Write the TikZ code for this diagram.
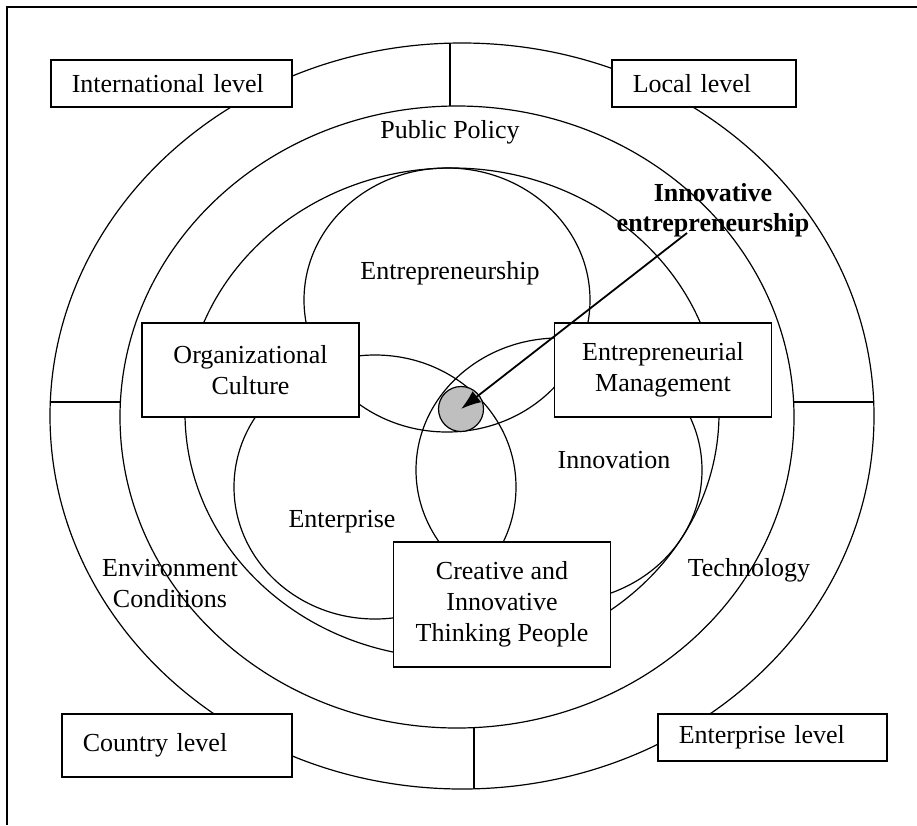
\documentclass[tikz,border=0pt]{standalone}
\usepackage{fontspec}
\setmainfont{Liberation Serif}
\usetikzlibrary{arrows.meta}

\begin{document}
\begin{tikzpicture}[x=1pt,y=-1pt,
    every node/.style={font=\fontsize{26}{31}\selectfont},
    ring/.style={line width=1.2pt},
    levelbox/.style={draw,fill=white,line width=1.6pt,anchor=north west,
        minimum height=47pt,inner xsep=21pt,align=left},
    topicbox/.style={draw,fill=white,line width=1.6pt,minimum width=217pt,
        align=center}]
    \useasboundingbox (0,0) rectangle (917,825);
    \draw[line width=2pt] (7,825) -- (7,7) -- (917,7);

    % rings
    \draw[ring] (462,416) ellipse [x radius=412,y radius=373];
    \draw[ring] (457,417) ellipse [x radius=337,y radius=311];
    \draw[ring] (452,413) ellipse [x radius=267,y radius=245];
    \draw[ring] (450,43) -- (450,106);
    \draw[ring] (474,728) -- (474,789);
    \draw[ring] (51,402) -- (120,402);
    \draw[ring] (794,402) -- (874,402);

    % entrepreneurship, enterprise, innovation
    \draw[ring] (447,300) ellipse [x radius=143,y radius=132];
    \draw[ring] (375,487) ellipse [x radius=141,y radius=132];
    \draw[ring] (559,470) ellipse [x radius=143,y radius=132];

    \node[levelbox,text width=199pt] (intl) at (50,59) {International level};
    \node[levelbox,text width=142pt] (local) at (611,59) {Local level};
    \node[levelbox,text width=188pt,minimum height=63pt] (country) at (61,713) {Country level};
    \node[levelbox,text width=187pt] (entlevel) at (657,713) {Enterprise level};

    \node[topicbox,minimum height=94pt] (oc) at (250.5,370) {Organizational\\Culture};
    \node[topicbox,minimum height=94pt] (em) at (663,370) {Entrepreneurial\\Management};
    \node[topicbox,minimum height=125pt] (citp) at (502,604.5) {Creative and\\Innovative\\Thinking People};

    \node (pp) at (450,132) {Public Policy};
    \node (entre) at (450,273) {Entrepreneurship};
    \node (innov) at (614,460) {Innovation};
    \node (enterp) at (342,522) {Enterprise};
    \node[align=center] (env) at (170,584) {Environment\\Conditions};
    \node (tech) at (749,570) {Technology};
    \node[align=center,font=\fontsize{26}{30}\selectfont\bfseries] (ie) at (713,210) {Innovative\\entrepreneurship};

    \node[draw,circle,fill=black!25,line width=1.2pt,minimum size=45pt,inner sep=0pt] (dot) at (461,409) {};
    \coordinate (arrowstart) at (687,233);
    \draw[line width=1.8pt,-{Latex[length=20pt,width=14pt]}] (arrowstart) -- (dot.center);
\end{tikzpicture}
\end{document}
